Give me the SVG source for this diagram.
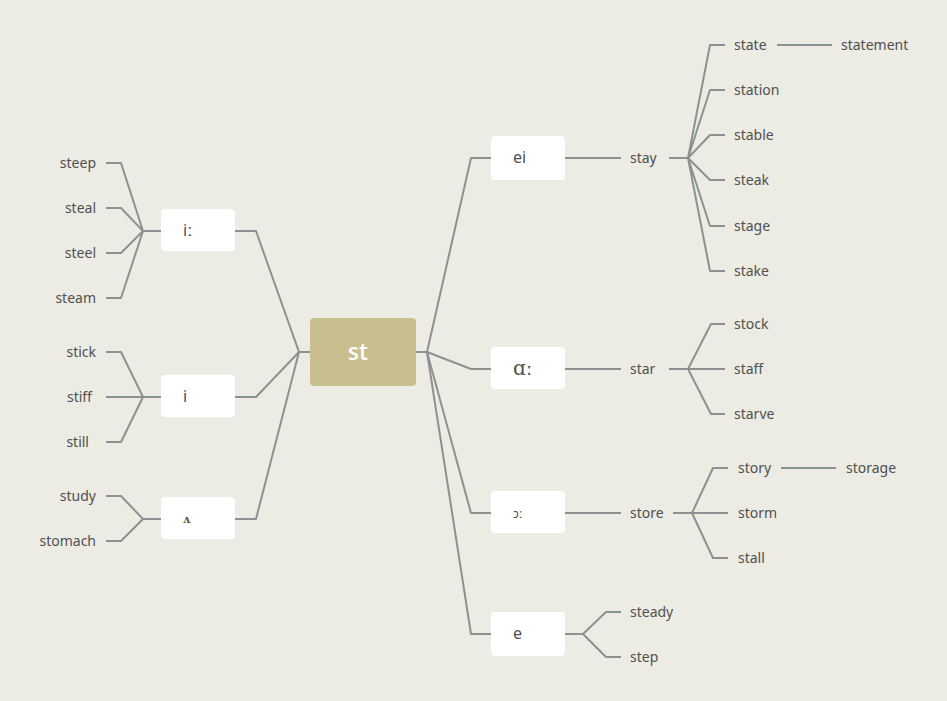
<svg xmlns="http://www.w3.org/2000/svg" width="947" height="701" viewBox="0 0 947 701">
<style>
.bg{fill:#ECECE4}
.node{fill:#FFFFFF}
.root{fill:#C9BF8E}
.lk{fill:none;stroke:#8E9191;stroke-width:2;stroke-linejoin:round}
.t{font-family:"Noto Sans","Open Sans",sans-serif;font-size:14px;fill:#4F5050;dominant-baseline:central}
.n{font-family:"Noto Sans","Open Sans",sans-serif;font-size:16px;fill:#4F5050;dominant-baseline:central}
.s{font-family:"DejaVu Serif",serif}
.r{text-anchor:end}
.rt{font-family:"Open Sans","Noto Sans",sans-serif;font-size:23px;font-weight:600;fill:#FFFFFF;text-anchor:middle;dominant-baseline:central}
</style>
<rect class="bg" x="0" y="0" width="947" height="701"/>
<g id="connectors">
<path class="lk" d="M416 352H427L471 158H491"/>
<path class="lk" d="M427 352L471 369H491"/>
<path class="lk" d="M427 352L471 513H491"/>
<path class="lk" d="M427 352L471 634H491"/>
<path class="lk" d="M310 352H299L256 231H235"/>
<path class="lk" d="M299 352L256 397H235"/>
<path class="lk" d="M299 352L256 519H235"/>
<path class="lk" d="M161 231H143L121 163H106M143 231L121 208H106M143 231L121 253H106M143 231L121 298H106"/>
<path class="lk" d="M161 397H143L121 352H106M143 397H106M143 397L121 442H106"/>
<path class="lk" d="M161 519H143L121 496H106M143 519L121 541H106"/>
<path class="lk" d="M565 158H621"/>
<path class="lk" d="M669 158H688L710 45H725M688 158L710 90H725M688 158L710 135H725M688 158L710 180H725M688 158L710 226H725M688 158L710 271H725"/>
<path class="lk" d="M777 45H832"/>
<path class="lk" d="M565 369H621"/>
<path class="lk" d="M669 369H688L711 324H725M688 369H725M688 369L711 414H725"/>
<path class="lk" d="M565 513H621"/>
<path class="lk" d="M673 513H692L713 468H728M692 513H728M692 513L713 558H728"/>
<path class="lk" d="M781 468H836"/>
<path class="lk" d="M565 634H583L606 612H621M583 634L606 657H621"/>
</g>
<g id="root"><rect class="root" x="310" y="318" width="106" height="68" rx="4"/><text class="rt" x="358" y="351">st</text></g>
<g id="n-ii"><rect class="node" x="161" y="209" width="74" height="42" rx="4"/><text class="n" x="183" y="230">iː</text></g>
<g id="n-i"><rect class="node" x="161" y="375" width="74" height="42" rx="4"/><text class="n" x="183" y="396">i</text></g>
<g id="n-v"><rect class="node" x="161" y="497" width="74" height="42" rx="4"/><text class="n s" x="183" y="519" style="font-size:11px;font-weight:bold">ʌ</text></g>
<g id="n-ei"><rect class="node" x="491" y="136" width="74" height="44" rx="4"/><text class="n" x="513" y="157">ei</text></g>
<g id="n-aa"><rect class="node" x="491" y="347" width="74" height="42" rx="4"/><text class="n s" x="513" y="368" style="font-size:20px">ɑː</text></g>
<g id="n-oo"><rect class="node" x="491" y="491" width="74" height="42" rx="4"/><text class="n" x="513" y="513" style="font-size:12px">ɔː</text></g>
<g id="n-e"><rect class="node" x="491" y="612" width="74" height="44" rx="4"/><text class="n" x="513" y="633">e</text></g>
<g id="leaves-left">
<text class="t r" x="96" y="162">steep</text>
<text class="t r" x="96" y="207">steal</text>
<text class="t r" x="96" y="252">steel</text>
<text class="t r" x="96" y="297">steam</text>
<text class="t r" x="96" y="351">stick</text>
<text class="t r" x="92" y="396">stiff</text>
<text class="t r" x="89" y="441">still</text>
<text class="t r" x="96" y="495">study</text>
<text class="t r" x="96" y="540">stomach</text>
</g>
<g id="leaves-right">
<text class="t" x="630" y="157">stay</text>
<text class="t" x="734" y="44">state</text>
<text class="t" x="841" y="44">statement</text>
<text class="t" x="734" y="89">station</text>
<text class="t" x="734" y="134">stable</text>
<text class="t" x="734" y="179">steak</text>
<text class="t" x="734" y="225">stage</text>
<text class="t" x="734" y="270">stake</text>
<text class="t" x="630" y="368">star</text>
<text class="t" x="734" y="323">stock</text>
<text class="t" x="734" y="368">staff</text>
<text class="t" x="734" y="413">starve</text>
<text class="t" x="630" y="512">store</text>
<text class="t" x="738" y="467">story</text>
<text class="t" x="846" y="467">storage</text>
<text class="t" x="738" y="512">storm</text>
<text class="t" x="738" y="557">stall</text>
<text class="t" x="630" y="611">steady</text>
<text class="t" x="630" y="656">step</text>
</g>
</svg>
